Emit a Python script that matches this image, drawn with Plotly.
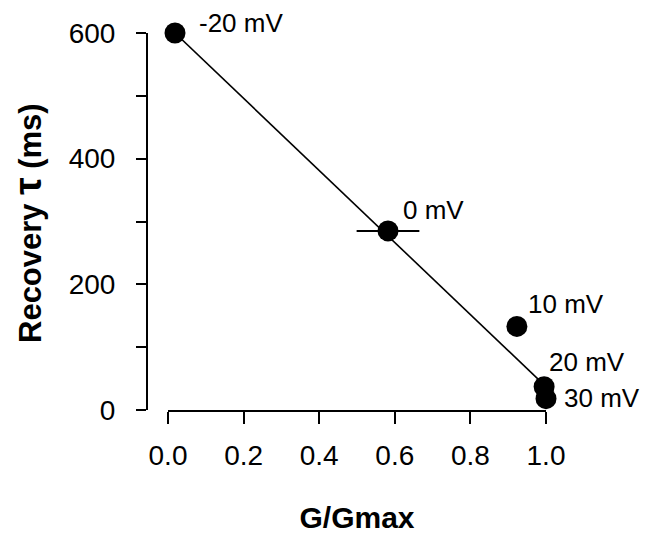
import plotly.graph_objects as go

# ---- data ----
labels = ["-20 mV", "0 mV", "10 mV", "20 mV", "30 mV"]
g_gmax = [0.0185, 0.582, 0.923, 0.995, 1.0]
tau_ms = [600, 285, 133, 37, 18]
g_err = [0, 0.083, 0, 0, 0]

fit_x = [0.0185, 0.995]
fit_y = [600, 40]

x_ticks = [0.0, 0.2, 0.4, 0.6, 0.8, 1.0]
y_ticks = [0, 200, 400, 600]

x_title = "<b>G/Gmax</b>"
y_title = "<b>Recovery <span style='font-size:39px'>τ</span> (ms)</b>"

# label offsets from each point, in pixels (right, down)
label_dx = [22, 13, 9, 3, 16]
label_dy = [-10, -21, -22, -25, -1]

W, H = 659, 533
FONT = "Arial, Liberation Sans, sans-serif"

fig = go.Figure()
fig.add_trace(go.Scatter(x=fit_x, y=fit_y, mode="lines",
                         line=dict(color="black", width=1.6),
                         hoverinfo="skip", showlegend=False))
fig.add_trace(go.Scatter(x=g_gmax, y=tau_ms, mode="markers",
                         marker=dict(color="black", size=21),
                         error_x=dict(type="data", array=g_err, visible=True,
                                      color="black", thickness=2, width=0),
                         cliponaxis=False, showlegend=False))

for t, gx, ty, dx, dy in zip(labels, g_gmax, tau_ms, label_dx, label_dy):
    fig.add_annotation(x=gx, y=ty, xref="x", yref="y", text=t,
                       showarrow=True, arrowcolor="rgba(0,0,0,0)", arrowwidth=0.1,
                       ax=dx, ay=dy, xanchor="left", yanchor="middle",
                       font=dict(size=26, color="black", family=FONT))

# y-axis title (placed as a rotated annotation to sit left of the free axis)
fig.add_annotation(x=19 / W, y=1 - 215 / H, xref="paper", yref="paper",
                   text=y_title, textangle=-90, showarrow=False,
                   xanchor="center", yanchor="middle", borderpad=0,
                   font=dict(size=31, color="black", family=FONT))

fig.update_layout(
    width=W, height=H,
    margin=dict(l=0, r=0, t=0, b=0),
    paper_bgcolor="white", plot_bgcolor="white",
    font=dict(family=FONT, color="black"),
    showlegend=False,
    xaxis=dict(
        domain=[160 / W, 538 / W], range=[0, 1],
        automargin=False,
        tickvals=x_ticks, tickformat=".1f",
        showline=True, linecolor="black", linewidth=2,
        ticks="outside", ticklen=12, tickwidth=2, tickcolor="black",
        showgrid=False, zeroline=False,
        tickfont=dict(size=28, family=FONT),
        ticklabelstandoff=7,
        title=dict(text=x_title, font=dict(size=30, family=FONT), standoff=37),
    ),
    yaxis=dict(
        domain=[1 - 402 / H, 1 - 25 / H], range=[0, 600],
        anchor="free", position=139 / W,
        automargin=False,
        tickvals=y_ticks,
        showline=True, linecolor="black", linewidth=2,
        ticks="outside", ticklen=10, tickwidth=2, tickcolor="black",
        minor=dict(dtick=100, ticks="outside", ticklen=10, tickwidth=2, tickcolor="black"),
        showgrid=False, zeroline=False,
        tickfont=dict(size=28, family=FONT),
        ticklabelstandoff=15,
    ),
)

fig.write_html("out.html")
